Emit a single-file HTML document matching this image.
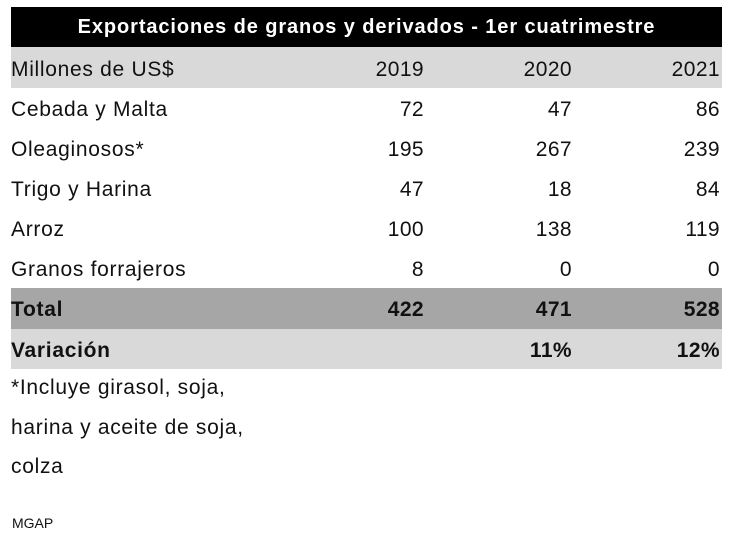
<!DOCTYPE html>
<html><head><meta charset="utf-8"><style>
body{margin:0;width:750px;height:549px;background:#fff;font-family:"Liberation Sans",sans-serif;position:relative;overflow:hidden;color:#111}
.bar{position:absolute;left:11px;width:711px}
.t{position:absolute;font-size:21px;line-height:24px;white-space:nowrap;letter-spacing:0.7px}
.r{text-align:right;width:100px;letter-spacing:0.4px}
.b{font-weight:bold}
</style></head><body>
<div class="bar" style="top:7px;height:40px;background:#000"></div>
<div class="t b" style="left:11px;width:711px;text-align:center;top:15px;color:#fff;font-size:20px;letter-spacing:0.9px">Exportaciones de granos y derivados - 1er cuatrimestre</div>
<div class="bar" style="top:47px;height:41px;background:#d9d9d9"></div>
<div class="bar" style="top:288px;height:41px;background:#a6a6a6"></div>
<div class="bar" style="top:329px;height:40px;background:#d9d9d9"></div>

<div class="t" style="left:11px;top:58px">Millones de US$</div>
<div class="t r" style="left:324px;top:58px">2019</div>
<div class="t r" style="left:472px;top:58px">2020</div>
<div class="t r" style="left:620px;top:58px">2021</div>

<div class="t" style="left:11px;top:98px">Cebada y Malta</div>
<div class="t r" style="left:324px;top:98px">72</div>
<div class="t r" style="left:472px;top:98px">47</div>
<div class="t r" style="left:620px;top:98px">86</div>

<div class="t" style="left:11px;top:138px">Oleaginosos*</div>
<div class="t r" style="left:324px;top:138px">195</div>
<div class="t r" style="left:472px;top:138px">267</div>
<div class="t r" style="left:620px;top:138px">239</div>

<div class="t" style="left:11px;top:178px">Trigo y Harina</div>
<div class="t r" style="left:324px;top:178px">47</div>
<div class="t r" style="left:472px;top:178px">18</div>
<div class="t r" style="left:620px;top:178px">84</div>

<div class="t" style="left:11px;top:218px">Arroz</div>
<div class="t r" style="left:324px;top:218px">100</div>
<div class="t r" style="left:472px;top:218px">138</div>
<div class="t r" style="left:620px;top:218px">119</div>

<div class="t" style="left:11px;top:258px">Granos forrajeros</div>
<div class="t r" style="left:324px;top:258px">8</div>
<div class="t r" style="left:472px;top:258px">0</div>
<div class="t r" style="left:620px;top:258px">0</div>

<div class="t b" style="left:11px;top:298px">Total</div>
<div class="t r b" style="left:324px;top:298px">422</div>
<div class="t r b" style="left:472px;top:298px">471</div>
<div class="t r b" style="left:620px;top:298px">528</div>

<div class="t b" style="left:11px;top:339px">Variación</div>
<div class="t r b" style="left:472px;top:339px">11%</div>
<div class="t r b" style="left:620px;top:339px">12%</div>

<div class="t" style="left:11px;top:376px">*Incluye girasol, soja,</div>
<div class="t" style="left:11px;top:416px">harina y aceite de soja,</div>
<div class="t" style="left:11px;top:455px">colza</div>
<div class="t" style="left:12px;top:515px;font-size:14px;line-height:16px;letter-spacing:0">MGAP</div>
</body></html>
